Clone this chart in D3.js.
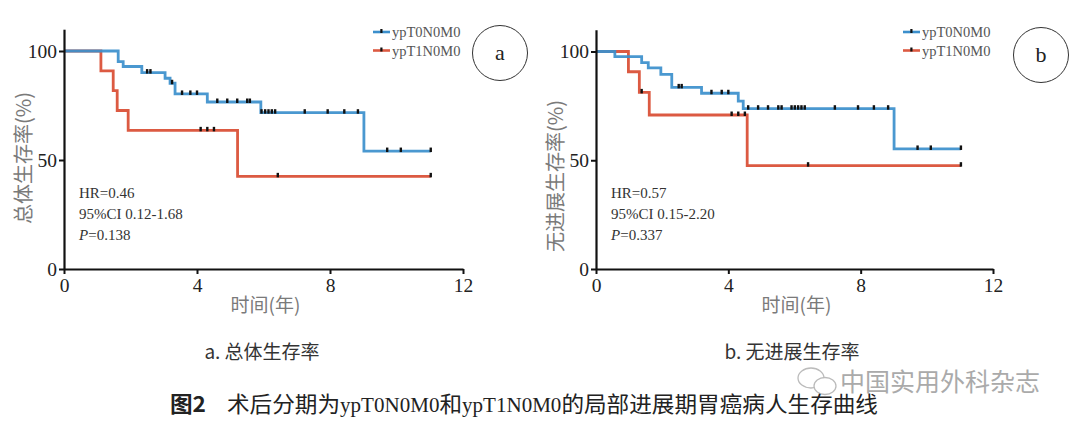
<!DOCTYPE html>
<html>
<head>
<meta charset="utf-8">
<script src="https://cdn.jsdelivr.net/npm/d3@7"></script>
<style>
  html, body { margin: 0; padding: 0; background: #fff; }
  svg { display: block; }
</style>
</head>
<body>
<svg id="chart" width="1080" height="429"></svg>
<script>
// ---------------- DATA ----------------
const groups = ["ypT0N0M0", "ypT1N0M0"];
const xTicks = [0, 4, 8, 12];
const yTicks = [0, 50, 100];

// Panel a: overall survival (总体生存率)
const osT0Time = [0, 1.63, 1.78, 2.34, 3.04, 3.19, 3.34, 4.31, 5.92, 9.02, 11.03];
const osT0Surv = [100, 95.1, 92.9, 90.1, 87.5, 85.2, 80.3, 76.6, 71.7, 54.1, 54.1];
const osT0Censor = [2.5, 2.6, 3.25, 3.55, 3.8, 4.0, 4.61, 4.91, 5.21, 5.51, 5.59, 5.94, 6.05, 6.15, 6.25, 6.35, 7.24, 7.93, 8.43, 8.84, 9.72, 10.13, 11.03];
const osT1Time = [0, 1.11, 1.48, 1.6, 1.93, 5.22, 11.03];
const osT1Surv = [100, 90.9, 81.8, 72.7, 63.6, 42.5, 42.5];
const osT1Censor = [4.11, 4.31, 4.51, 6.43, 11.03];

// Panel b: progression-free survival (无进展生存率)
const pfsT0Time = [0, 0.57, 1.38, 1.58, 1.96, 2.29, 3.19, 4.3, 4.45, 9.01, 11.03];
const pfsT0Surv = [100, 97.6, 94.9, 92.5, 89.5, 83.5, 80.8, 77.2, 73.7, 55.2, 55.2];
const pfsT0Censor = [2.5, 2.59, 3.49, 3.8, 4.0, 4.6, 4.9, 5.2, 5.51, 5.61, 5.91, 6.01, 6.11, 6.21, 6.31, 7.22, 7.92, 8.4, 8.83, 9.72, 10.12, 11.03];
const pfsT1Time = [0, 0.98, 1.31, 1.61, 4.57, 11.03];
const pfsT1Surv = [100, 90.7, 81.2, 70.8, 47.5, 47.5];
const pfsT1Censor = [1.38, 4.1, 4.3, 4.5, 6.41, 11.03];

const statsA = ["HR=0.46", "95%CI 0.12-1.68", "0.138"];
const statsB = ["HR=0.57", "95%CI 0.15-2.20", "0.337"];

// ---------------- DRAW ----------------
const svg = d3.select("#chart");
const SERIF = "'Liberation Serif','DejaVu Serif',serif";
const CJK = "'Noto Sans CJK SC','Noto Sans CJK JP',sans-serif";
const colors = ["#3b8fcc", "#dc5a42"];

const panels = [
  { x0: 64, x1: 463, y0: 269, y100: 51, letter: "a", ytitle: "总体生存率(%)", ytitleY: 158, ytitleX: 24,
    series: [[osT0Time, osT0Surv, osT0Censor], [osT1Time, osT1Surv, osT1Censor]], stats: statsA,
    legendX: 373, circleX: 500, circleY: 53, sub: "a. 总体生存率", subX: 262 },
  { x0: 596, x1: 993, y0: 269, y100: 51.5, letter: "b", ytitle: "无进展生存率(%)", ytitleY: 176, ytitleX: 556,
    series: [[pfsT0Time, pfsT0Surv, pfsT0Censor], [pfsT1Time, pfsT1Surv, pfsT1Censor]], stats: statsB,
    legendX: 903, circleX: 1041, circleY: 55, sub: "b. 无进展生存率", subX: 792 }
];

function stepValue(times, surv, t) {
  let v = surv[0];
  for (let i = 0; i < times.length; i++) { if (times[i] <= t) v = surv[i]; }
  return v;
}

panels.forEach(p => {
  const x = d3.scaleLinear().domain([0, 12]).range([p.x0, p.x1]);
  const ppu = (p.y0 - p.y100) / 100;
  const y = d3.scaleLinear().domain([0, 110]).range([p.y0, p.y0 - 110 * ppu]);
  const g = svg.append("g");

  // curves: red first, blue on top
  [1, 0].forEach(si => {
    const [times, surv, cens] = p.series[si];
    const pts = times.map((t, i) => [t, surv[i]]);
    const line = d3.line().x(d => x(d[0])).y(d => y(d[1])).curve(d3.curveStepAfter);
    g.append("path").attr("d", line(pts)).attr("fill", "none")
      .attr("stroke", colors[si]).attr("stroke-width", 2.8)
      .attr("stroke-opacity", si === 0 ? 0.92 : 1);
    g.selectAll(null).data(cens).enter().append("rect")
      .attr("x", d => x(d) - 1.2).attr("y", d => y(stepValue(times, surv, d)) - 3.5)
      .attr("width", 2.4).attr("height", 4.5).attr("fill", "#111");
  });

  // axes
  const xa = g.append("g").attr("transform", `translate(0,${p.y0})`)
    .call(d3.axisBottom(x).tickValues(xTicks).tickSize(5).tickSizeOuter(0).tickPadding(4));
  const ya = g.append("g").attr("transform", `translate(${p.x0},0)`)
    .call(d3.axisLeft(y).tickValues(yTicks).tickSize(5).tickSizeOuter(0).tickPadding(2));
  [xa, ya].forEach(a => {
    a.select(".domain").attr("stroke", "#111").attr("stroke-width", 2.2);
    a.selectAll(".tick line").attr("stroke", "#111").attr("stroke-width", 2);
    a.selectAll(".tick text").attr("font-family", SERIF).attr("font-size", 19.5).attr("fill", "#222");
  });

  // axis titles
  g.append("text").attr("x", (p.x0 + p.x1) / 2 + 2).attr("y", 312).attr("text-anchor", "middle")
    .attr("font-family", CJK).attr("font-size", 19).attr("fill", "#7a7a7a").text("时间(年)");
  g.append("text").attr("transform", `translate(${p.ytitleX + 7},${p.ytitleY}) rotate(-90)`)
    .attr("text-anchor", "middle").attr("font-family", CJK).attr("font-size", 20).attr("fill", "#7a7a7a")
    .text(p.ytitle);

  // legend
  groups.forEach((name, i) => {
    const ly = 32 + i * 18.5;
    g.append("line").attr("x1", p.legendX).attr("x2", p.legendX + 17).attr("y1", ly).attr("y2", ly)
      .attr("stroke", colors[i]).attr("stroke-width", 2.6);
    g.append("rect").attr("x", p.legendX + 7.3).attr("y", ly - 3).attr("width", 2.2).attr("height", 4).attr("fill", "#111");
    g.append("text").attr("x", p.legendX + 19).attr("y", ly + 5).attr("font-family", SERIF)
      .attr("font-size", 14.5).attr("fill", "#555").text(name);
  });

  // circle letter
  g.append("circle").attr("cx", p.circleX).attr("cy", p.circleY).attr("r", 27.5)
    .attr("fill", "none").attr("stroke", "#333").attr("stroke-width", 1);
  g.append("text").attr("x", p.circleX).attr("y", p.circleY + 7).attr("text-anchor", "middle")
    .attr("font-family", SERIF).attr("font-size", 22).attr("fill", "#222").text(p.letter);

  // stats
  const sx = p.x0 + 15;
  g.append("text").attr("x", sx).attr("y", 198).attr("font-family", SERIF).attr("font-size", 15).attr("fill", "#333").text(p.stats[0]);
  g.append("text").attr("x", sx).attr("y", 219).attr("font-family", SERIF).attr("font-size", 15).attr("fill", "#333").text(p.stats[1]);
  const pt = g.append("text").attr("x", sx).attr("y", 240).attr("font-family", SERIF).attr("font-size", 15).attr("fill", "#333");
  pt.append("tspan").attr("font-style", "italic").text("P");
  pt.append("tspan").text("=" + p.stats[2]);

  // sub caption
  g.append("text").attr("x", p.subX).attr("y", 359).attr("text-anchor", "middle")
    .attr("font-family", CJK).attr("font-size", 19).attr("fill", "#333").text(p.sub);
});

// watermark
const wm = svg.append("g");
wm.append("ellipse").attr("cx", 811).attr("cy", 378).attr("rx", 13).attr("ry", 10)
  .attr("fill", "none").attr("stroke", "#bbb").attr("stroke-width", 1.3);
wm.append("ellipse").attr("cx", 825).attr("cy", 386).attr("rx", 11).attr("ry", 8.5)
  .attr("fill", "#fff").attr("stroke", "#bbb").attr("stroke-width", 1.3);
wm.append("text").attr("x", 840).attr("y", 391).attr("font-family", CJK).attr("font-size", 25)
  .attr("fill", "#aaa").text("中国实用外科杂志");

// figure caption (single text element)
const cap = svg.append("text").attr("x", 170).attr("y", 412).attr("font-family", CJK)
  .attr("font-size", 21.5).attr("fill", "#222")
  .attr("textLength", 708).attr("lengthAdjust", "spacingAndGlyphs");
cap.append("tspan").attr("font-weight", "bold").text("图2");
cap.append("tspan").attr("dx", 20).text("术后分期为");
cap.append("tspan").attr("font-family", SERIF).attr("font-size", 20).text(groups[0]);
cap.append("tspan").text("和");
cap.append("tspan").attr("font-family", SERIF).attr("font-size", 20).text(groups[1]);
cap.append("tspan").text("的局部进展期胃癌病人生存曲线");
</script>
</body>
</html>
